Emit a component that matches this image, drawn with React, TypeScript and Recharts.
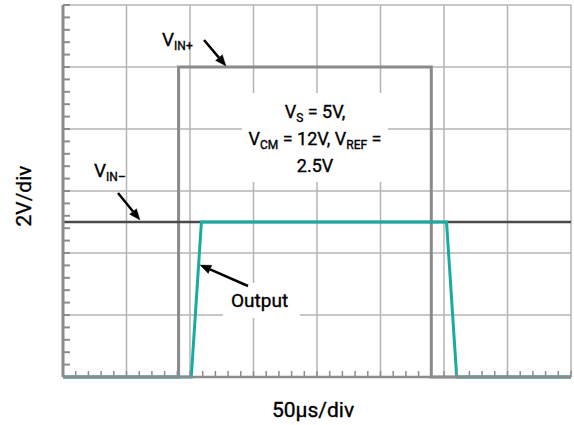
import React from 'react';
import { LineChart, Line, XAxis, YAxis, CartesianGrid } from 'recharts';

// time axis in µs (50 µs/div, 8 divisions), voltage axis in V (2 V/div, 6 divisions)
const majorTimeTicks = [0, 50, 100, 150, 200, 250, 300, 350, 400];
const minorTimeTicks = [0, 10, 20, 30, 40, 50, 60, 70, 80, 90, 100, 110, 120, 130, 140, 150, 160, 170, 180, 190, 200, 210, 220, 230, 240, 250, 260, 270, 280, 290, 300, 310, 320, 330, 340, 350, 360, 370, 380, 390, 400];
const majorVoltTicks = [0, 2, 4, 6, 8, 10, 12];
const minorVoltTicks = [0, 0.4, 0.8, 1.2, 1.6, 2, 2.4, 2.8, 3.2, 3.6, 4, 4.4, 4.8, 5.2, 5.6, 6, 6.4, 6.8, 7.2, 7.6, 8, 8.4, 8.8, 9.2, 9.6, 10, 10.4, 10.8, 11.2, 11.6, 12];

const vinPlusTime = [0, 91, 91, 290, 290, 400];
const vinPlusVolt = [0, 0, 10, 10, 0, 0];
const vinMinusTime = [0, 400];
const vinMinusVolt = [5, 5];
const outputTime = [0, 101, 109, 302, 310, 400];
const outputVolt = [0, 0, 5, 5, 0, 0];

const toPoints = (t: number[], v: number[]) => t.map((time, i) => ({ t: time, v: v[i] }));

const vinPlusData = toPoints(vinPlusTime, vinPlusVolt);
const vinMinusData = toPoints(vinMinusTime, vinMinusVolt);
const outputData = toPoints(outputTime, outputVolt);

const FONT = 'Roboto, "DejaVu Sans", sans-serif';

// ticks point into the plot, like on a scope screen
const BottomTick = (props: any) => (
  <line x1={props.x} x2={props.x} y1={props.y} y2={props.y - 6} stroke="#8c8c8c" strokeWidth={1.5} />
);

const LeftTick = (props: any) => (
  <line x1={props.x} x2={props.x + 7} y1={props.y} y2={props.y} stroke="#8c8c8c" strokeWidth={2} />
);

function Arrow({ x1, y1, x2, y2 }: { x1: number; y1: number; x2: number; y2: number }) {
  const ang = Math.atan2(y2 - y1, x2 - x1);
  const len = 11;
  const half = 4.5;
  const bx = x2 - len * Math.cos(ang);
  const by = y2 - len * Math.sin(ang);
  const px = -Math.sin(ang) * half;
  const py = Math.cos(ang) * half;
  return (
    <g>
      <line x1={x1} y1={y1} x2={bx} y2={by} stroke="#000" strokeWidth={2.5} />
      <polygon points={`${x2},${y2} ${bx + px},${by + py} ${bx - px},${by - py}`} fill="#000" />
    </g>
  );
}

export default function App() {
  return (
    <div style={{ position: 'absolute', left: 0, top: 0, width: 574, height: 425, background: '#fff' }}>
      <LineChart width={574} height={425} margin={{ top: 5, right: 3, left: 62, bottom: 47 }}>
        <CartesianGrid stroke="#b4b4b4" strokeWidth={1.5}
          verticalValues={majorTimeTicks} horizontalValues={majorVoltTicks} />
        <XAxis dataKey="t" type="number" domain={[0, 400]} ticks={minorTimeTicks} interval={0}
          height={1} tickSize={0} tickMargin={0} tickLine={false} tick={BottomTick}
          axisLine={{ stroke: '#8c8c8c', strokeWidth: 2.5 }} />
        <YAxis type="number" domain={[0, 12]} ticks={minorVoltTicks} interval={0}
          width={1} tickSize={0} tickMargin={0} tickLine={false} tick={LeftTick}
          axisLine={{ stroke: '#8c8c8c', strokeWidth: 3 }} />
        <Line data={vinPlusData} dataKey="v" type="linear"
          stroke="#8a8a8a" strokeWidth={3} dot={false} isAnimationActive={false} />
        <Line data={vinMinusData} dataKey="v" type="linear"
          stroke="#4a4a4a" strokeWidth={2.5} dot={false} isAnimationActive={false} />
        <Line data={outputData} dataKey="v" type="linear"
          stroke="#16aca1" strokeWidth={3} dot={false} isAnimationActive={false} />
      </LineChart>
      <svg width={574} height={425} style={{ position: 'absolute', left: 0, top: 0, pointerEvents: 'none' }}
        fontFamily={FONT} fill="#000" stroke="#000" strokeWidth={0.35}>
        {/* white backing boxes that break the grid behind the labels */}
        <rect x={242} y={93} width={146} height={89} fill="#fff" stroke="none" />
        <rect x={223} y={283} width={77} height={35} fill="#fff" stroke="none" />

        <text x={24} y={196} fontSize={21} textAnchor="middle" dominantBaseline="central"
          transform="rotate(-90 24 196)">2V/div</text>
        <text x={313} y={417} fontSize={21} textAnchor="middle">50µs/div</text>

        <text x={162} y={46} fontSize={19}>V<tspan fontSize={12} dy={4}>IN+</tspan></text>
        <Arrow x1={204} y1={40} x2={226} y2={66} />

        <text x={94} y={177} fontSize={19}>V<tspan fontSize={12} dy={4}>IN–</tspan></text>
        <Arrow x1={118} y1={193} x2={140} y2={220} />

        <text x={231} y={307} fontSize={19}>Output</text>
        <Arrow x1={248} y1={286} x2={200} y2={265} />

        <text x={315} y={118} fontSize={18} textAnchor="middle">
          V<tspan fontSize={12} dy={4}>S</tspan><tspan dy={-4}> = 5V,</tspan>
        </text>
        <text x={315} y={145} fontSize={18} textAnchor="middle">
          V<tspan fontSize={12} dy={4}>CM</tspan><tspan dy={-4}> = 12V, V</tspan>
          <tspan fontSize={12} dy={4}>REF</tspan><tspan dy={-4}> =</tspan>
        </text>
        <text x={315} y={172} fontSize={18} textAnchor="middle">2.5V</text>
      </svg>
    </div>
  );
}
